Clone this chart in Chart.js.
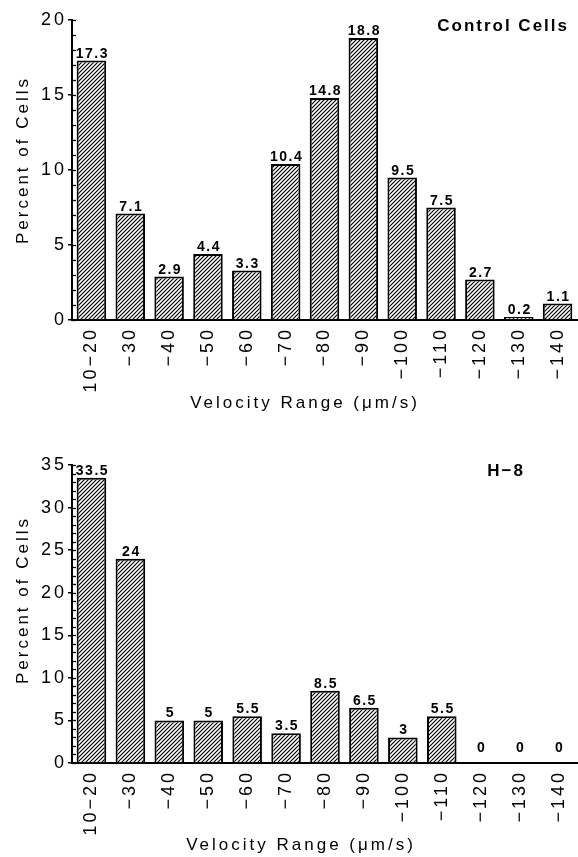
<!DOCTYPE html>
<html>
<head>
<meta charset="utf-8">
<script src="https://cdn.jsdelivr.net/npm/chart.js@4"></script>
<style>
html, body { margin: 0; padding: 0; background: #fff; }
#top { position: absolute; left: 0; top: 0; width: 578px; height: 420px; }
#bottom { position: absolute; left: 0; top: 420px; width: 578px; height: 437px; }
</style>
</head>
<body>
<div id="top"><canvas id="control-chart"></canvas></div>
<div id="bottom"><canvas id="h8-chart"></canvas></div>
<script>
// Data
const velocityRanges = ['10−20', '−30', '−40', '−50', '−60', '−70', '−80', '−90', '−100', '−110', '−120', '−130', '−140'];
const controlValues = [17.3, 7.1, 2.9, 4.4, 3.3, 10.4, 14.8, 18.8, 9.5, 7.5, 2.7, 0.2, 1.1];
const h8Values = [33.5, 24, 5, 5, 5.5, 3.5, 8.5, 6.5, 3, 5.5, 0, 0, 0];
const controlYMax = 20;
const h8YMax = 35;
const yLabelStep = 5;
const xTitle = 'Velocity Range (μm/s)';
const yTitle = 'Percent of Cells';

const FONT = '"Liberation Sans", Arial, sans-serif';
Chart.defaults.font.family = FONT;
Chart.defaults.color = '#000';

// diagonal hatch fill for the bars
function hatchPattern() {
    const n = 4;
    const c = document.createElement('canvas');
    c.width = n; c.height = n;
    const g = c.getContext('2d');
    g.fillStyle = '#fff';
    g.fillRect(0, 0, n, n);
    g.strokeStyle = '#000';
    g.lineWidth = 1.15;
    g.beginPath();
    g.moveTo(-1, n + 1); g.lineTo(n + 1, -1);
    g.moveTo(-1, 1); g.lineTo(1, -1);
    g.moveTo(n - 1, n + 1); g.lineTo(n + 1, n - 1);
    g.stroke();
    return g.createPattern(c, 'repeat');
}

// wide letter spacing like the old typeset figure
const spacing = {
    id: 'spacing',
    beforeUpdate(chart) { chart.ctx.letterSpacing = '3px'; },
    beforeLayout(chart) { chart.ctx.letterSpacing = '3px'; },
    beforeDraw(chart) { chart.ctx.letterSpacing = '3px'; }
};

// small ticks on the inside of the y axis
const innerTicks = {
    id: 'innerTicks',
    afterDraw(chart) {
        const y = chart.scales.y;
        const ctx = chart.ctx;
        const x0 = chart.chartArea.left;
        ctx.save();
        ctx.strokeStyle = '#000';
        ctx.lineWidth = 1.3;
        y.ticks.forEach(t => {
            const py = Math.round(y.getPixelForValue(t.value)) + 0.5;
            ctx.beginPath();
            ctx.moveTo(x0, py);
            ctx.lineTo(x0 + 4, py);
            ctx.stroke();
        });
        ctx.restore();
    }
};

// numbers above the bars
const barLabels = {
    id: 'barLabels',
    afterDatasetsDraw(chart) {
        const ctx = chart.ctx;
        const meta = chart.getDatasetMeta(0);
        const values = chart.data.datasets[0].data;
        ctx.save();
        ctx.font = 'bold 14px ' + FONT;
        ctx.letterSpacing = '1.5px';
        ctx.fillStyle = '#000';
        ctx.textAlign = 'center';
        ctx.textBaseline = 'alphabetic';
        meta.data.forEach((bar, i) => {
            const v = values[i];
            ctx.fillText(String(v), bar.x + 1, bar.y - (v === 0 ? 11 : 3));
        });
        ctx.restore();
    }
};

// panel name in the corner and the two axis titles (set a little off centre, as in the figure)
const annotations = {
    id: 'annotations',
    afterDraw(chart, args, opts) {
        const ctx = chart.ctx;
        const a = chart.chartArea;
        ctx.save();
        ctx.fillStyle = '#000';
        ctx.textBaseline = 'middle';

        ctx.font = 'bold 17px ' + FONT;
        ctx.letterSpacing = '2px';
        ctx.textAlign = 'right';
        ctx.fillText(opts.name, a.right - opts.nameRight, a.top + 6);

        ctx.font = '17px ' + FONT;
        ctx.letterSpacing = '3px';
        ctx.textAlign = 'center';
        ctx.fillText(xTitle, opts.xTitleX, opts.xTitleY);

        ctx.translate(opts.yTitleX, (a.top + a.bottom) / 2 - opts.yTitleShift);
        ctx.rotate(-Math.PI / 2);
        ctx.fillText(yTitle, 0, 0);
        ctx.restore();
    }
};

function makeChart(id, values, yMax, name, layout) {
    return new Chart(document.getElementById(id), {
        type: 'bar',
        data: {
            labels: velocityRanges,
            datasets: [{
                data: values,
                backgroundColor: hatchPattern(),
                borderColor: '#000',
                borderWidth: 2,
                barPercentage: 0.76,
                categoryPercentage: 1
            }]
        },
        options: {
            responsive: true,
            maintainAspectRatio: false,
            animation: false,
            layout: { padding: { left: 12, right: layout.right, top: layout.top, bottom: 0 } },
            plugins: {
                legend: { display: false },
                tooltip: { enabled: false },
                annotations: {
                    name: name,
                    nameRight: layout.nameRight,
                    xTitleX: layout.xTitleX,
                    xTitleY: layout.xTitleY,
                    yTitleX: 23,
                    yTitleShift: layout.yTitleShift
                }
            },
            scales: {
                x: {
                    grid: { display: false, drawTicks: false },
                    border: { color: '#000', width: 2 },
                    ticks: { color: '#000', font: { size: 18 }, minRotation: 90, maxRotation: 90, padding: layout.tickPad, autoSkip: false },
                    afterFit: s => {
                        s.height = layout.xHeight;
                        s.paddingLeft = 0;
                        s.paddingRight = 0;
                    }
                },
                y: {
                    min: 0,
                    max: yMax,
                    border: { color: '#000', width: 2 },
                    grid: {
                        drawOnChartArea: false,
                        tickLength: 4,
                        lineWidth: 1.5,
                        color: c => (c.tick && c.tick.value % yLabelStep === 0) ? '#000' : 'rgba(0,0,0,0)'
                    },
                    ticks: {
                        stepSize: 1,
                        autoSkip: false,
                        color: '#000',
                        font: { size: 18 },
                        padding: 1,
                        callback: v => (v % yLabelStep === 0 ? v : '')
                    },
                    afterFit: s => { s.width = 60; }
                }
            }
        },
        plugins: [spacing, innerTicks, barLabels, annotations]
    });
}

makeChart('control-chart', controlValues, controlYMax, 'Control Cells',
    { top: 20, right: 1, tickPad: 7, xHeight: 100, nameRight: 8, xTitleX: 305, xTitleY: 403, yTitleShift: 10 });
makeChart('h8-chart', h8Values, h8YMax, 'H−8',
    { top: 45, right: 0, tickPad: 7, xHeight: 94, nameRight: 53, xTitleX: 301, xTitleY: 425, yTitleShift: 14 });
</script>
</body>
</html>
